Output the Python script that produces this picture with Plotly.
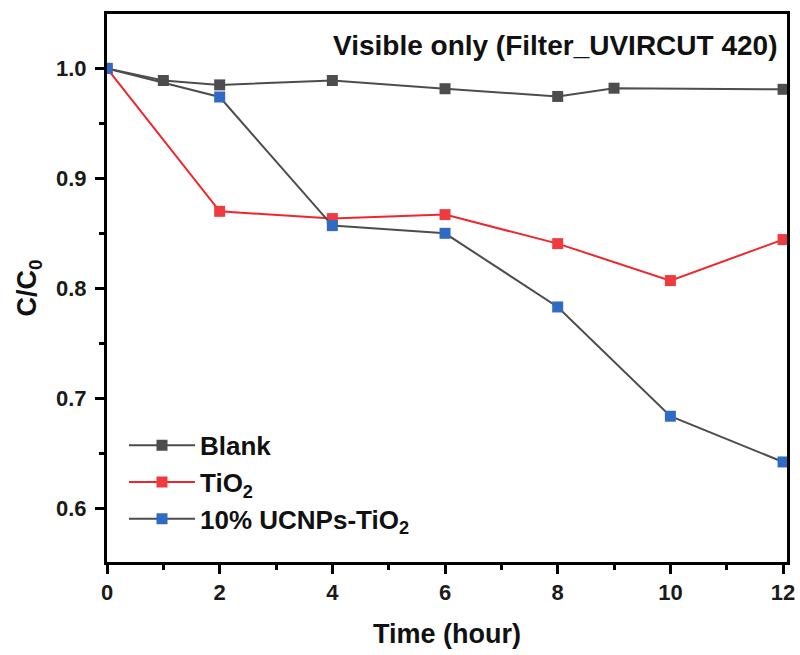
#C/C0 degradation under visible light only

import plotly.graph_objects as go

#Data
timeBlank = [0, 1, 2, 4, 6, 8, 9, 12]
blank = [1.0, 0.989, 0.985, 0.989, 0.9815, 0.9745, 0.982, 0.981]

timeTiO2 = [0, 2, 4, 6, 8, 10, 12]
tio2 = [1.0, 0.870, 0.8634, 0.867, 0.8406, 0.807, 0.8443]

timeUCNP = [0, 2, 4, 6, 8, 10, 12]
ucnp = [1.0, 0.974, 0.857, 0.850, 0.783, 0.6836, 0.642]

xTicks = [0, 2, 4, 6, 8, 10, 12]
yTicks = [0.6, 0.7, 0.8, 0.9, 1.0]

font = "Arial, Liberation Sans, sans-serif"

fig = go.Figure()
fig.add_trace(go.Scatter(x=timeBlank, y=blank, name="<b>Blank</b>", mode="lines+markers",
                         line=dict(color="#4d4d4d", width=2),
                         marker=dict(symbol="square", size=11, color="#4d4d4d")))
fig.add_trace(go.Scatter(x=timeTiO2, y=tio2, name="<b>TiO<sub>2</sub></b>", mode="lines+markers",
                         line=dict(color="#f0262b", width=2),
                         marker=dict(symbol="square", size=11, color="#ef3b3f")))
fig.add_trace(go.Scatter(x=timeUCNP, y=ucnp, name="<b>10% UCNPs-TiO<sub>2</sub></b>", mode="lines+markers",
                         line=dict(color="#4d4d4d", width=2),
                         marker=dict(symbol="square", size=11, color="#2f6bc4")))

tickFont = dict(family=font, size=22, color="#1a1a1a")
titleFont = dict(family=font, size=27, color="#111")

fig.update_layout(
    width=800, height=655, plot_bgcolor="white", paper_bgcolor="white",
    font=dict(family=font, size=22, color="#111"),
    margin=dict(l=107, r=13, t=14, b=93),
    xaxis=dict(showline=True, linecolor="black", linewidth=3, mirror=True, automargin=False,
               ticks="outside", ticklen=9, tickwidth=3, tickcolor="black",
               showgrid=False, zeroline=False, range=[0, 12.07],
               tickvals=xTicks, ticktext=["<b>%d</b>" % v for v in xTicks], tickfont=tickFont,
               title=dict(text="<b>Time (hour)</b>", font=titleFont, standoff=20),
               minor=dict(ticks="outside", ticklen=5, tickwidth=3, dtick=1, tick0=0, tickcolor="black")),
    yaxis=dict(showline=True, linecolor="black", linewidth=3, mirror=True, automargin=False,
               ticks="outside", ticklen=9, tickwidth=3, tickcolor="black", ticklabelstandoff=4,
               showgrid=False, zeroline=False, range=[0.551, 1.0495],
               tickvals=yTicks, ticktext=["<b>%.1f</b>" % v for v in yTicks], tickfont=tickFont,
               title=dict(text="<b>C/C<sub>0</sub></b>", font=titleFont, standoff=12),
               minor=dict(ticks="outside", ticklen=5, tickwidth=3, dtick=0.05, tick0=0.6, tickcolor="black")),
    legend=dict(x=0.025, y=0.035, xanchor="left", yanchor="bottom",
                bgcolor="rgba(0,0,0,0)", itemwidth=66, tracegroupgap=0,
                font=dict(family=font, size=26, color="#111")))

fig.add_annotation(text="<b>Visible only (Filter_UVIRCUT 420)</b>", xref="paper", yref="paper",
                   x=0.99, y=0.975, xanchor="right", yanchor="top", showarrow=False,
                   font=dict(family=font, size=28, color="#111"))

# drop the default 8px body margin so the 800x655 figure fills the window exactly
fig.write_html("out.html", config={"displayModeBar": False},
               post_script="document.body.style.margin='0';")
